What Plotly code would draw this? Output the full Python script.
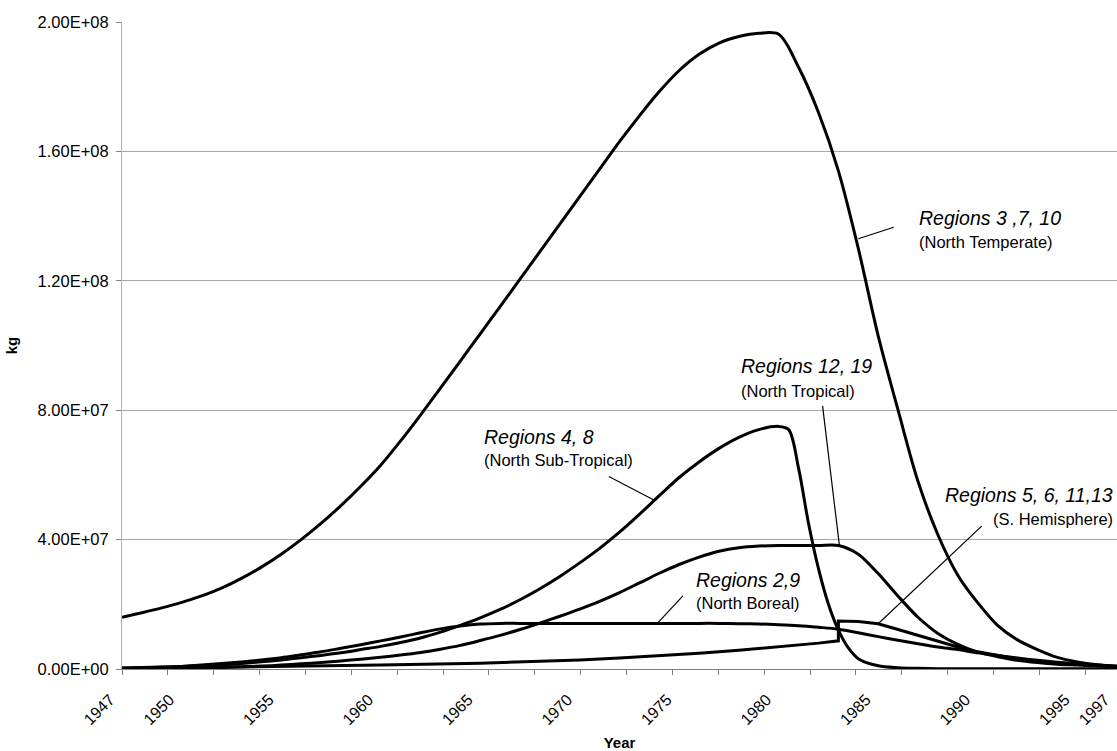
import plotly.graph_objects as go

# ---------------- data (kg) ----------------
temperate_years = list(range(1947, 1998))
temperate_kg = [
    1.60e7, 1.74e7, 1.89e7, 2.06e7, 2.26e7, 2.50e7, 2.80e7, 3.15e7, 3.55e7, 4.00e7,
    4.50e7, 5.05e7, 5.65e7, 6.30e7, 7.05e7, 7.85e7, 8.68e7, 9.52e7, 1.036e8, 1.12e8,
    1.205e8, 1.29e8, 1.375e8, 1.46e8, 1.545e8, 1.63e8, 1.71e8, 1.785e8, 1.85e8, 1.90e8,
    1.935e8, 1.955e8, 1.965e8, 1.962e8, 1.86e8, 1.72e8, 1.54e8, 1.30e8, 1.03e8, 8.00e7,
    5.80e7, 4.15e7, 2.90e7, 2.05e7, 1.35e7, 9.0e6, 6.0e6, 3.6e6, 2.2e6, 1.3e6, 8.0e5,
]

subtropical_years = list(range(1947, 1981)) + [1980.5, 1981, 1981.5, 1982, 1982.5, 1983, 1983.5] + list(range(1984, 1998))
subtropical_kg = [
    3.0e5, 4.5e5, 6.0e5, 8.0e5, 1.0e6, 1.3e6, 1.7e6, 2.2e6, 2.8e6, 3.5e6,
    4.2e6, 5.0e6, 6.0e6, 7.0e6, 8.2e6, 9.6e6, 1.14e7, 1.35e7, 1.58e7, 1.84e7,
    2.14e7, 2.48e7, 2.86e7, 3.28e7, 3.73e7, 4.23e7, 4.78e7, 5.36e7, 5.92e7, 6.40e7,
    6.82e7, 7.16e7, 7.40e7, 7.50e7,
    7.40e7, 6.20e7, 4.50e7, 3.10e7, 2.00e7, 1.20e7, 6.5e6,
    3.2e6, 1.0e6, 4.0e5, 2.0e5, 1.0e5, 1.0e5, 1.0e5, 1.0e5, 1.0e5, 1.0e5, 1.0e5, 1.0e5, 1.0e5, 1.0e5,
]

tropical_years = list(range(1947, 1998))
tropical_kg = [
    1.0e5, 1.5e5, 2.0e5, 3.0e5, 4.0e5, 5.0e5, 7.0e5, 9.0e5, 1.2e6, 1.6e6,
    2.0e6, 2.5e6, 3.0e6, 3.6e6, 4.3e6, 5.1e6, 6.1e6, 7.3e6, 8.8e6, 1.04e7,
    1.22e7, 1.42e7, 1.63e7, 1.85e7, 2.09e7, 2.36e7, 2.66e7, 2.96e7, 3.23e7, 3.46e7,
    3.64e7, 3.75e7, 3.80e7, 3.82e7, 3.82e7, 3.82e7, 3.82e7, 3.55e7, 2.95e7, 2.25e7,
    1.60e7, 1.10e7, 7.6e6, 5.2e6, 3.8e6, 2.7e6, 2.0e6, 1.5e6, 1.2e6, 9.0e5, 7.0e5,
]

boreal_years = list(range(1947, 1998))
boreal_kg = [
    2.0e5, 3.5e5, 5.5e5, 8.0e5, 1.2e6, 1.7e6, 2.2e6, 2.8e6, 3.5e6, 4.4e6,
    5.3e6, 6.4e6, 7.5e6, 8.7e6, 9.9e6, 1.12e7, 1.24e7, 1.33e7, 1.39e7, 1.41e7,
    1.41e7, 1.41e7, 1.41e7, 1.41e7, 1.41e7, 1.41e7, 1.41e7, 1.41e7, 1.41e7, 1.41e7,
    1.41e7, 1.40e7, 1.39e7, 1.37e7, 1.34e7, 1.29e7, 1.23e7, 1.12e7, 1.00e7, 8.9e6,
    7.8e6, 6.8e6, 6.0e6, 5.0e6, 4.2e6, 3.4e6, 2.7e6, 2.1e6, 1.6e6, 1.2e6, 9.0e5,
]

shem_years = [1947, 1950, 1955, 1960, 1965, 1968, 1970, 1972, 1974, 1976, 1978, 1980, 1982, 1983,
              1983, 1984, 1985, 1986, 1987, 1988, 1989, 1990, 1991, 1992, 1993, 1994, 1995, 1996, 1997]
shem_kg = [1.0e5, 3.0e5, 7.0e5, 1.2e6, 1.8e6, 2.3e6, 2.8e6, 3.4e6, 4.1e6, 4.9e6, 5.8e6, 6.8e6, 8.0e6, 8.7e6,
           1.48e7, 1.47e7, 1.40e7, 1.22e7, 1.04e7, 8.6e6, 6.8e6, 5.3e6, 4.1e6, 3.1e6, 2.4e6, 1.8e6, 1.4e6, 1.1e6, 8.0e5]

x_tick_years = [1947, 1950, 1955, 1960, 1965, 1970, 1975, 1980, 1985, 1990, 1995, 1997]
y_tick_values = [0, 4e7, 8e7, 1.2e8, 1.6e8, 2e8]
y_tick_labels = ["0.00E+00", "4.00E+07", "8.00E+07", "1.20E+08", "1.60E+08", "2.00E+08"]

# labels: (title, subtitle, x, y_title, y_sub, anchor)
labels = [
    ("Regions 3 ,7, 10", "(North Temperate)", 1986.95, 1.394e8, 1.320e8, "left"),
    ("Regions 12, 19", "(North Tropical)", 1978.0, 9.36e7, 8.59e7, "left"),
    ("Regions 4, 8", "(North Sub-Tropical)", 1965.1, 7.17e7, 6.46e7, "left"),
    ("Regions 2,9", "(North Boreal)", 1975.75, 2.74e7, 2.03e7, "left"),
    ("Regions 5, 6, 11,13", "(S. Hemisphere)", 1996.9, 5.37e7, 4.63e7, "right"),
]
# pointer lines: tip (year, kg) on curve, tail offset in px
pointers = [
    (1984.0, 1.33e8, 37, -12),
    (1983.05, 3.82e7, -17, -141),
    (1973.8, 5.2e7, -48, -25),
    (1973.9, 1.41e7, 27, -29),
    (1985.0, 1.40e7, 105, -99),
]

FONT = "Liberation Sans, Arial, sans-serif"

fig = go.Figure()
series = [
    (temperate_years, temperate_kg, "spline"),
    (subtropical_years, subtropical_kg, "spline"),
    (tropical_years, tropical_kg, "spline"),
    (boreal_years, boreal_kg, "spline"),
    (shem_years, shem_kg, "linear"),
]
for xs, ys, shape in series:
    fig.add_trace(go.Scatter(x=xs, y=ys, mode="lines",
                             line=dict(color="black", width=3, shape=shape, smoothing=0.9),
                             hoverinfo="skip"))

annotations = []
for title, sub, x, yt, ys_, anchor in labels:
    annotations.append(dict(x=x, y=yt, xref="x", yref="y", text="<i>" + title + "</i>",
                            showarrow=False, xanchor=anchor, yanchor="middle",
                            font=dict(family=FONT, size=19.5, color="black")))
    annotations.append(dict(x=x, y=ys_, xref="x", yref="y", text=sub,
                            showarrow=False, xanchor=anchor, yanchor="middle",
                            font=dict(family=FONT, size=16.5, color="black")))
for x, y, ax, ay in pointers:
    annotations.append(dict(x=x, y=y, xref="x", yref="y", text="", showarrow=True,
                            arrowhead=0, arrowwidth=1.2, arrowcolor="black", ax=ax, ay=ay,
                            standoff=0, startstandoff=0))

fig.update_layout(
    width=1117, height=751,
    margin=dict(l=122, r=0, t=22, b=82),
    plot_bgcolor="white", paper_bgcolor="white",
    showlegend=False,
    font=dict(family=FONT, color="black"),
    annotations=annotations,
    xaxis=dict(
        range=[1946.999, 1997.001], tickmode="array", tickvals=x_tick_years,
        ticktext=[str(v) for v in x_tick_years], tickangle=-45, ticks="",
        ticklabelshift=-12, ticklabelstandoff=14,
        showgrid=False, zeroline=False, showline=True, linecolor="#808080", linewidth=1,
        tickfont=dict(family=FONT, size=16, color="black"),
        minor=dict(tickmode="linear", tick0=1947, dtick=2.305, ticks="outside",
                   ticklen=5, tickcolor="#808080", showgrid=False),
        title=dict(text="<b>Year</b>", font=dict(family=FONT, size=15, color="black"), standoff=10),
    ),
    yaxis=dict(
        range=[0, 2e8], tickmode="array", tickvals=y_tick_values, ticktext=y_tick_labels,
        ticks="outside", ticklen=5, tickcolor="#808080", ticklabelstandoff=4,
        showgrid=True, gridcolor="#a8a8a8", gridwidth=1, zeroline=False,
        showline=True, linecolor="#b0b0b0", linewidth=1,
        tickfont=dict(family=FONT, size=16.5, color="black"),
        title=dict(text="<b>kg</b>", font=dict(family=FONT, size=15, color="black"), standoff=16),
    ),
)

fig.write_html("out.html", config={"displayModeBar": False},
               post_script="document.body.style.margin='0';document.body.style.overflow='hidden';")
